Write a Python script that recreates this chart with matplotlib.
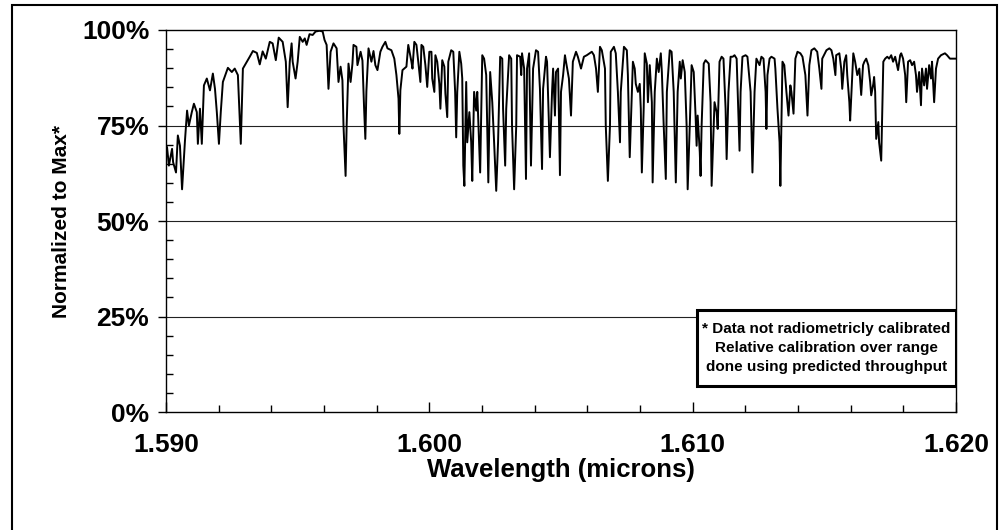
import numpy as np
import matplotlib
matplotlib.use('Agg')
import matplotlib.pyplot as plt
from matplotlib.patches import Rectangle
from matplotlib.ticker import MultipleLocator, FixedLocator

# spectrum (wavelength in nm, signal in % of max)
wavelength_nm = [
    1590.04, 1590.11, 1590.23, 1590.27, 1590.38, 1590.45, 1590.53, 1590.61,
    1590.72, 1590.80, 1590.87, 1590.98, 1591.06, 1591.17, 1591.21, 1591.29,
    1591.36, 1591.44, 1591.55, 1591.67, 1591.78, 1591.86, 1591.93, 1592.01,
    1592.08, 1592.16, 1592.35, 1592.50, 1592.61, 1592.73, 1592.84, 1592.92,
    1593.03, 1593.18, 1593.30, 1593.45, 1593.56, 1593.67, 1593.79, 1593.94,
    1594.05, 1594.17, 1594.28, 1594.43, 1594.55, 1594.62, 1594.70, 1594.77,
    1594.81, 1594.92, 1595.00, 1595.08, 1595.19, 1595.27, 1595.34, 1595.45,
    1595.57, 1595.68, 1595.83, 1595.95, 1596.02, 1596.10, 1596.17, 1596.25,
    1596.36, 1596.48, 1596.55, 1596.63, 1596.70, 1596.74, 1596.82, 1596.86,
    1596.93, 1597.01, 1597.08, 1597.12, 1597.23, 1597.27, 1597.39, 1597.46,
    1597.52, 1597.57, 1597.61, 1597.69, 1597.80, 1597.88, 1597.95, 1598.03,
    1598.14, 1598.22, 1598.33, 1598.41, 1598.56, 1598.67, 1598.75, 1598.83,
    1598.86, 1598.90, 1598.98, 1599.13, 1599.20, 1599.32, 1599.36, 1599.43,
    1599.51, 1599.58, 1599.66, 1599.70, 1599.77, 1599.85, 1599.92, 1600.00,
    1600.08, 1600.11, 1600.19, 1600.23, 1600.30, 1600.38, 1600.42, 1600.49,
    1600.57, 1600.61, 1600.68, 1600.72, 1600.83, 1600.91, 1600.98, 1601.02,
    1601.06, 1601.14, 1601.21, 1601.25, 1601.29, 1601.33, 1601.40, 1601.44,
    1601.52, 1601.59, 1601.63, 1601.70, 1601.78, 1601.82, 1601.93, 1602.01,
    1602.08, 1602.16, 1602.24, 1602.31, 1602.39, 1602.46, 1602.54, 1602.61,
    1602.69, 1602.77, 1602.80, 1602.88, 1602.92, 1603.03, 1603.11, 1603.14,
    1603.22, 1603.30, 1603.33, 1603.45, 1603.49, 1603.52, 1603.60, 1603.67,
    1603.71, 1603.79, 1603.86, 1603.94, 1604.05, 1604.13, 1604.20, 1604.28,
    1604.32, 1604.43, 1604.47, 1604.58, 1604.66, 1604.70, 1604.77, 1604.81,
    1604.89, 1604.96, 1605.00, 1605.08, 1605.15, 1605.19, 1605.30, 1605.38,
    1605.45, 1605.57, 1605.64, 1605.76, 1605.87, 1605.98, 1606.17, 1606.25,
    1606.33, 1606.40, 1606.48, 1606.55, 1606.67, 1606.70, 1606.78, 1606.86,
    1606.89, 1607.01, 1607.08, 1607.16, 1607.24, 1607.27, 1607.39, 1607.50,
    1607.54, 1607.61, 1607.69, 1607.73, 1607.80, 1607.84, 1607.92, 1607.99,
    1608.03, 1608.07, 1608.14, 1608.18, 1608.26, 1608.30, 1608.37, 1608.45,
    1608.48, 1608.56, 1608.64, 1608.71, 1608.79, 1608.83, 1608.90, 1608.98,
    1609.02, 1609.13, 1609.20, 1609.28, 1609.36, 1609.43, 1609.51, 1609.55,
    1609.62, 1609.70, 1609.77, 1609.81, 1609.89, 1609.96, 1610.04, 1610.11,
    1610.15, 1610.19, 1610.27, 1610.30, 1610.34, 1610.42, 1610.49, 1610.61,
    1610.68, 1610.72, 1610.80, 1610.83, 1610.91, 1610.95, 1611.02, 1611.10,
    1611.17, 1611.25, 1611.29, 1611.36, 1611.44, 1611.52, 1611.59, 1611.67,
    1611.74, 1611.78, 1611.82, 1611.89, 1612.01, 1612.08, 1612.20, 1612.27,
    1612.35, 1612.42, 1612.54, 1612.61, 1612.69, 1612.77, 1612.80, 1612.84,
    1612.92, 1612.99, 1613.11, 1613.14, 1613.22, 1613.30, 1613.33, 1613.37,
    1613.41, 1613.48, 1613.56, 1613.64, 1613.71, 1613.75, 1613.83, 1613.90,
    1613.98, 1614.09, 1614.17, 1614.28, 1614.36, 1614.43, 1614.51, 1614.62,
    1614.73, 1614.81, 1614.89, 1614.92, 1615.08, 1615.19, 1615.27, 1615.34,
    1615.42, 1615.45, 1615.57, 1615.64, 1615.68, 1615.76, 1615.83, 1615.87,
    1615.95, 1615.98, 1616.06, 1616.10, 1616.17, 1616.25, 1616.33, 1616.40,
    1616.47, 1616.52, 1616.59, 1616.67, 1616.74, 1616.78, 1616.86, 1616.89,
    1616.93, 1616.97, 1617.05, 1617.08, 1617.16, 1617.20, 1617.24, 1617.31,
    1617.39, 1617.46, 1617.54, 1617.61, 1617.69, 1617.73, 1617.80, 1617.88,
    1617.92, 1617.99, 1618.07, 1618.11, 1618.18, 1618.26, 1618.33, 1618.41,
    1618.48, 1618.52, 1618.60, 1618.67, 1618.71, 1618.79, 1618.86, 1618.90,
    1618.98, 1619.05, 1619.09, 1619.17, 1619.24, 1619.32, 1619.43, 1619.58,
    1619.66, 1619.77, 1620.00,
]
normalized_pct = [
    69.3, 64.5, 68.9, 65.4, 62.7, 72.4, 69.7, 58.3,
    71.0, 78.9, 75.0, 78.5, 80.7, 78.5, 70.2, 79.4,
    70.2, 85.5, 87.3, 84.2, 88.6, 84.6, 78.5, 70.2,
    78.5, 86.4, 90.1, 89.0, 89.9, 88.2, 70.2, 89.9,
    91.2, 93.0, 94.5, 94.0, 91.0, 94.4, 92.5, 96.9,
    96.5, 92.1, 98.0, 96.9, 91.7, 79.8, 91.7, 96.5,
    91.7, 87.3, 91.7, 98.2, 96.9, 97.8, 96.1, 98.9,
    98.7, 99.6, 99.8, 99.6, 97.4, 96.1, 84.6, 94.3,
    96.5, 95.2, 86.4, 90.4, 86.8, 75.0, 61.8, 75.0,
    91.2, 86.4, 91.2, 96.1, 95.6, 90.8, 94.3, 92.0,
    80.0, 71.5, 84.0, 95.2, 91.7, 94.5, 90.8, 89.5,
    94.3, 95.6, 96.9, 95.2, 94.7, 92.5, 88.2, 82.0,
    72.8, 84.2, 89.5, 90.4, 96.1, 91.7, 89.9, 96.9,
    96.1, 91.7, 86.4, 96.1, 95.6, 90.8, 85.1, 94.3,
    94.3, 87.3, 83.8, 93.4, 91.7, 85.9, 79.4, 92.1,
    90.4, 83.3, 77.2, 91.7, 94.7, 94.3, 83.8, 71.9,
    83.8, 94.3, 91.2, 87.3, 64.5, 59.2, 86.4, 70.6,
    78.5, 70.6, 60.5, 83.8, 78.9, 83.8, 62.7, 93.4,
    92.5, 88.2, 60.1, 89.0, 81.1, 70.6, 57.9, 70.6,
    93.0, 92.5, 79.4, 64.5, 79.4, 93.4, 92.5, 75.0,
    58.3, 75.0, 93.4, 93.0, 88.2, 93.9, 89.9, 61.0,
    89.9, 93.9, 64.5, 89.9, 94.7, 94.3, 84.6, 63.6,
    84.6, 93.0, 91.7, 66.7, 83.8, 89.9, 77.6, 89.0,
    89.9, 62.0, 83.8, 88.2, 93.4, 91.7, 87.3, 77.6,
    91.7, 94.3, 93.0, 89.9, 93.0, 93.4, 94.3, 93.4,
    89.9, 83.8, 95.6, 94.7, 89.9, 75.0, 60.5, 75.0,
    94.3, 95.6, 93.9, 83.8, 70.6, 83.8, 95.6, 94.7,
    88.2, 66.7, 83.8, 91.7, 89.9, 85.9, 83.8, 85.9,
    79.4, 62.7, 79.4, 93.9, 91.2, 81.1, 90.8, 81.1,
    60.1, 83.8, 92.5, 89.0, 93.9, 89.0, 75.0, 61.0,
    83.8, 94.7, 94.3, 83.8, 60.1, 83.8, 91.7, 87.3,
    92.1, 89.0, 75.0, 58.3, 75.0, 90.8, 89.0, 77.6,
    69.7, 77.6, 68.0, 61.8, 75.0, 91.2, 92.1, 91.2,
    81.1, 59.2, 75.0, 81.1, 78.5, 74.1, 91.7, 93.0,
    92.5, 79.4, 66.2, 83.8, 93.0, 93.0, 93.4, 92.5,
    76.7, 68.4, 83.8, 93.0, 93.4, 93.0, 83.8, 62.7,
    83.8, 92.5, 90.8, 93.0, 92.5, 83.8, 74.1, 88.2,
    92.5, 93.0, 92.5, 89.9, 79.4, 70.6, 59.2, 75.0,
    91.7, 90.8, 83.8, 77.6, 85.5, 83.8, 78.1, 92.5,
    94.3, 93.9, 93.0, 88.2, 77.6, 90.8, 94.7, 95.2,
    94.3, 89.9, 84.6, 92.5, 94.7, 95.2, 94.7, 92.5,
    88.2, 93.4, 93.9, 89.9, 84.6, 91.7, 93.4, 88.2,
    81.1, 76.3, 88.2, 93.9, 91.7, 88.2, 89.9, 83.0,
    90.8, 91.7, 92.5, 90.8, 86.4, 82.9, 85.9, 87.7,
    83.8, 71.5, 75.9, 70.6, 65.8, 79.4, 91.7, 92.5,
    93.0, 92.5, 93.4, 91.7, 93.0, 91.7, 89.5, 93.4,
    93.9, 92.5, 88.2, 81.1, 91.7, 92.1, 90.8, 91.7,
    88.2, 83.8, 89.0, 80.3, 89.9, 85.5, 89.9, 84.6,
    90.8, 87.3, 91.7, 81.1, 89.9, 92.5, 93.4, 93.9,
    93.4, 92.5, 92.5,
]
assert len(wavelength_nm) == len(normalized_pct)

x_ticks = [1.590, 1.600, 1.610, 1.620]
y_ticks = [0, 25, 50, 75, 100]
y_ticklabels = ['0%', '25%', '50%', '75%', '100%']
note_text = ("* Data not radiometricly calibrated\n"
             "Relative calibration over range\n"
             "done using predicted throughput")

plt.rcParams['font.family'] = ['Liberation Sans', 'DejaVu Sans']

fig = plt.figure(figsize=(10, 5.3), dpi=100)
ax = fig.add_axes([0.166, 0.2226, 0.790, 0.7208])

wl = np.array(wavelength_nm) / 1000.0
ax.plot(wl, normalized_pct, color='black', lw=1.4)

ax.set_xlim(1.590, 1.620)
ax.set_ylim(0, 100)

# horizontal gridlines
for g in [25, 50, 75]:
    ax.axhline(g, color='#222222', lw=0.8, zorder=0)

ax.xaxis.set_major_locator(FixedLocator(x_ticks))
ax.xaxis.set_minor_locator(MultipleLocator(0.002))
ax.set_xticklabels(['%.3f' % t for t in x_ticks])
ax.yaxis.set_major_locator(FixedLocator(y_ticks))
ax.yaxis.set_minor_locator(MultipleLocator(5))
ax.set_yticklabels(y_ticklabels)

ax.tick_params(axis='x', which='major', direction='in', length=7, width=1,
               pad=15, labelsize=19)
ax.tick_params(axis='x', which='minor', direction='in', length=5, width=1)
ax.tick_params(axis='y', which='major', direction='out', length=6, width=1,
               pad=6, labelsize=19)
ax.tick_params(axis='y', which='minor', direction='in', length=5, width=1)
for lab in ax.get_xticklabels() + ax.get_yticklabels():
    lab.set_fontweight('bold')

for s in ax.spines.values():
    s.set_color('black')
    s.set_linewidth(1.0)

ax.set_xlabel('Wavelength (microns)', fontsize=18.5, fontweight='bold', labelpad=1)
ax.set_ylabel('Normalized to Max*', fontsize=15, fontweight='bold', labelpad=8)

# note box at lower right
ax.add_patch(Rectangle((0.6726, 0.068), 0.3274, 0.1995, transform=ax.transAxes,
                       facecolor='white', edgecolor='black', lw=2.2, zorder=5))
ax.text(0.836, 0.1678, note_text, transform=ax.transAxes, ha='center', va='center',
        fontsize=11, fontweight='bold', linespacing=1.45, zorder=6)

# outer frame around the whole chart
fig.patches.append(Rectangle((0.012, -0.01), 0.985, 1.0006, transform=fig.transFigure,
                             fill=False, edgecolor='black', lw=1.5))

fig.savefig('out.png', dpi=100)
